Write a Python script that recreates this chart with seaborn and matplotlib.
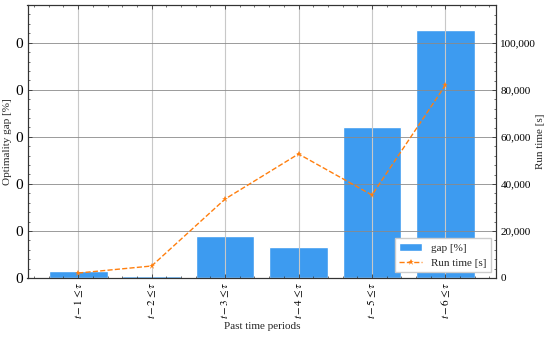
import numpy as np
import pandas as pd
import seaborn as sns
import matplotlib
import matplotlib.pyplot as plt
from matplotlib.ticker import StrMethodFormatter, AutoMinorLocator, MultipleLocator

matplotlib.use('Agg')

# data (gap axis labels all round to "0")
periods = [r'$t-1 \leq \tau$', r'$t-2 \leq \tau$', r'$t-3 \leq \tau$',
           r'$t-4 \leq \tau$', r'$t-5 \leq \tau$', r'$t-6 \leq \tau$']
gap = [0.0015, 0.0004, 0.0089, 0.0066, 0.0321, 0.0528]
run_time = [2100, 5100, 33600, 52800, 35300, 82100]

df = pd.DataFrame({'period': periods, 'gap': gap, 'run_time': run_time})

sns.set_theme(style='white')
plt.rcParams['font.family'] = ['Liberation Serif', 'DejaVu Serif']
plt.rcParams['mathtext.fontset'] = 'stix'
plt.rcParams['font.size'] = 8

fig, ax = plt.subplots(figsize=(5.5, 3.39), dpi=100)
sns.barplot(data=df, x='period', y='gap', color='#3d9bf0', saturation=1,
            width=0.8, ax=ax, label='gap [%]')
ax.set_xlim(-0.69, 5.69)
ax.set_ylim(0, 0.058)
ax.yaxis.set_major_locator(MultipleLocator(0.01))
ax.yaxis.set_major_formatter(StrMethodFormatter('{x:,.0f}'))
ax.yaxis.set_minor_locator(AutoMinorLocator(5))
ax.xaxis.set_minor_locator(AutoMinorLocator(5))
ax.set_axisbelow(False)
ax.grid(axis='x', color='#c8c8c8', linewidth=0.8)
ax.grid(axis='y', color='#8a8a8a', linewidth=0.6)
ax.tick_params(axis='x', rotation=90, labelsize=8)
ax.tick_params(which='both', direction='in', top=True, bottom=True, left=True, right=False, colors='#333333', labelcolor='black')
ax.tick_params(which='major', length=3, width=0.6, pad=3)
ax.tick_params(which='minor', length=1.5, width=0.5)
ax.set_xlabel('Past time periods', fontsize=8, labelpad=2)
ax.set_ylabel('Optimality gap [%]', fontsize=8, labelpad=3)

ax2 = ax.twinx()
sns.lineplot(x=np.arange(len(run_time)), y=run_time, ax=ax2, color='#ff7f0e',
             linestyle='--', linewidth=1, marker='*', markersize=5,
             markeredgewidth=0, label='Run time [s]', legend=False)
ax2.set_ylim(0, 116170)
ax2.yaxis.set_major_locator(MultipleLocator(20000))
ax2.yaxis.set_major_formatter(StrMethodFormatter('{x:,.0f}'))
ax2.yaxis.set_minor_locator(AutoMinorLocator(5))
ax2.tick_params(which='both', direction='in', right=True, colors='#333333', labelcolor='black', labelsize=8)
ax2.tick_params(which='major', length=3, width=0.6, pad=3)
ax2.tick_params(which='minor', length=1.5, width=0.5)
ax2.set_ylabel('Run time [s]', fontsize=8, labelpad=0)

for a in (ax, ax2):
    for s in a.spines.values():
        s.set_color('#333333')
        s.set_linewidth(0.8)

h1, l1 = ax.get_legend_handles_labels()
h2, l2 = ax2.get_legend_handles_labels()
leg = ax.get_legend()
if leg is not None:
    leg.remove()
ax2.legend(h1 + h2, l1 + l2, loc='lower right', fontsize=8, frameon=True,
           fancybox=False, framealpha=1, edgecolor='#cccccc')

fig.subplots_adjust(left=0.05, right=0.902, top=0.985, bottom=0.18)
fig.savefig('out.png', dpi=100)
